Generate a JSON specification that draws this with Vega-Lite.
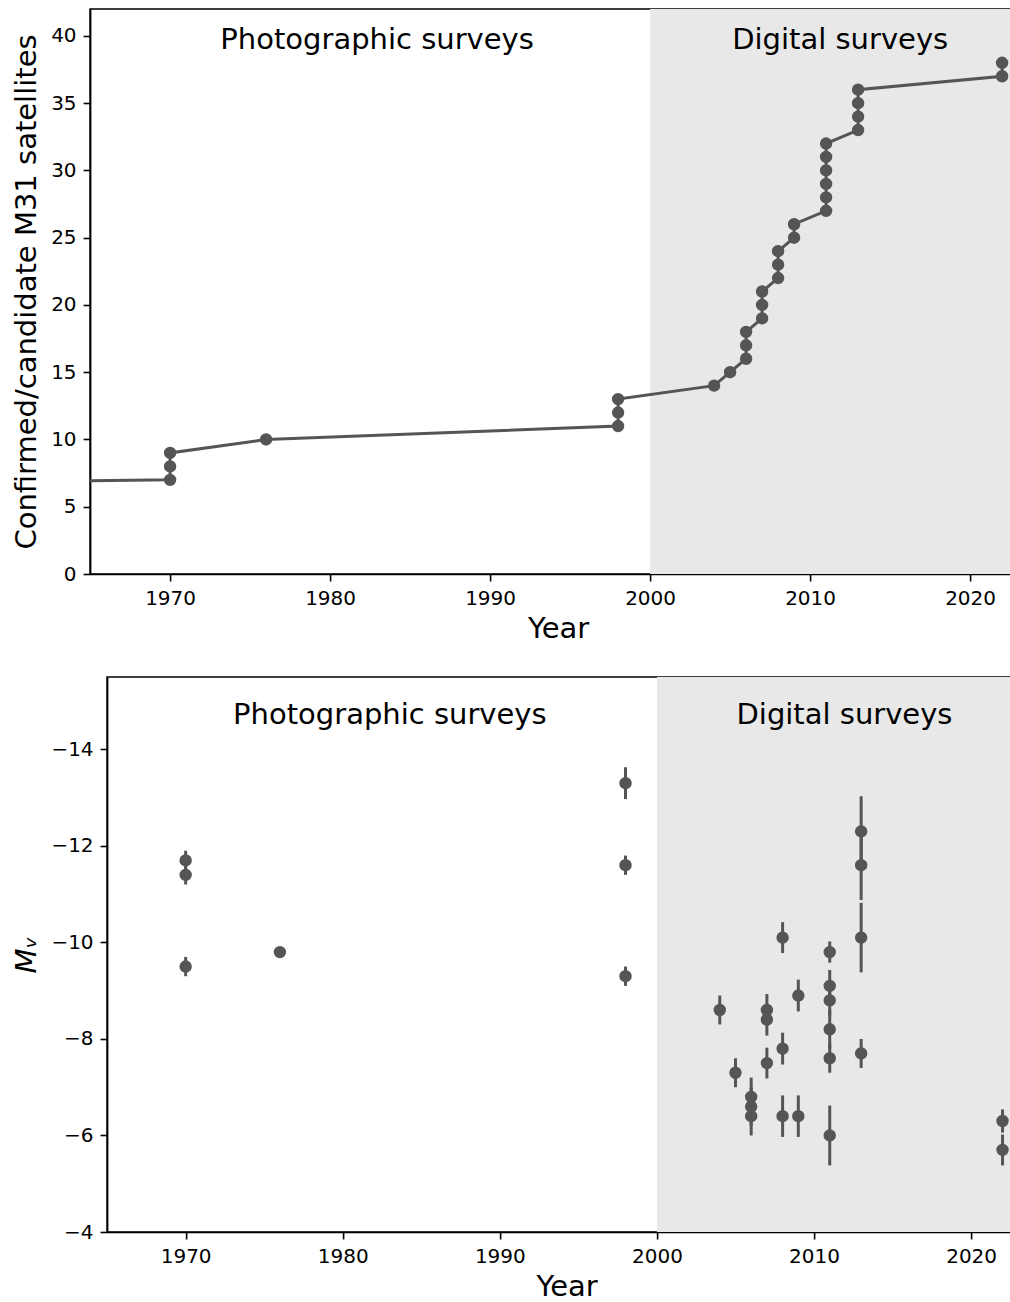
{
  "$schema": "https://vega.github.io/schema/vega-lite/v6.json",
  "padding": {"left": 11, "top": 8, "right": 0, "bottom": 0},
  "background": "white",
  "center": true,
  "spacing": 32,
  "config": {
    "view": {"stroke": "black", "strokeWidth": 1.6},
    "font": "DejaVu Sans",
    "axis": {
      "labelFont": "DejaVu Sans", "labelFontSize": 20, "labelColor": "black",
      "titleFont": "DejaVu Sans", "titleFontSize": 29, "titleFontWeight": "normal", "titleColor": "black",
      "tickColor": "black", "domainColor": "black", "tickSize": 7, "tickWidth": 1.6, "domainWidth": 1.6,
      "labelPadding": 7, "titlePadding": 6, "grid": false
    }
  },
  "datasets": {
    "counts": [
      {"year": 1654, "count": 1}, {"year": 1749, "count": 2}, {"year": 1773, "count": 3},
      {"year": 1787, "count": 4}, {"year": 1829, "count": 5}, {"year": 1887, "count": 6},
      {"year": 1970, "count": 7}, {"year": 1970, "count": 8}, {"year": 1970, "count": 9},
      {"year": 1976, "count": 10},
      {"year": 1998, "count": 11}, {"year": 1998, "count": 12}, {"year": 1998, "count": 13},
      {"year": 2004, "count": 14}, {"year": 2005, "count": 15},
      {"year": 2006, "count": 16}, {"year": 2006, "count": 17}, {"year": 2006, "count": 18},
      {"year": 2007, "count": 19}, {"year": 2007, "count": 20}, {"year": 2007, "count": 21},
      {"year": 2008, "count": 22}, {"year": 2008, "count": 23}, {"year": 2008, "count": 24},
      {"year": 2009, "count": 25}, {"year": 2009, "count": 26},
      {"year": 2011, "count": 27}, {"year": 2011, "count": 28}, {"year": 2011, "count": 29},
      {"year": 2011, "count": 30}, {"year": 2011, "count": 31}, {"year": 2011, "count": 32},
      {"year": 2013, "count": 33}, {"year": 2013, "count": 34}, {"year": 2013, "count": 35}, {"year": 2013, "count": 36},
      {"year": 2022, "count": 37}, {"year": 2022, "count": 38}
    ],
    "mags": [
      {"year": 1970, "mv": -11.7, "err": 0.2}, {"year": 1970, "mv": -11.4, "err": 0.2}, {"year": 1970, "mv": -9.5, "err": 0.2},
      {"year": 1976, "mv": -9.8, "err": 0},
      {"year": 1998, "mv": -13.3, "err": 0.33}, {"year": 1998, "mv": -11.6, "err": 0.2}, {"year": 1998, "mv": -9.3, "err": 0.2},
      {"year": 2004, "mv": -8.6, "err": 0.3},
      {"year": 2005, "mv": -7.3, "err": 0.3},
      {"year": 2006, "mv": -6.8, "err": 0.4}, {"year": 2006, "mv": -6.6, "err": 0.4}, {"year": 2006, "mv": -6.4, "err": 0.4},
      {"year": 2007, "mv": -8.6, "err": 0.33}, {"year": 2007, "mv": -8.4, "err": 0.33}, {"year": 2007, "mv": -7.5, "err": 0.32},
      {"year": 2008, "mv": -10.1, "err": 0.32}, {"year": 2008, "mv": -7.8, "err": 0.33}, {"year": 2008, "mv": -6.4, "err": 0.43},
      {"year": 2009, "mv": -8.9, "err": 0.33}, {"year": 2009, "mv": -6.4, "err": 0.43},
      {"year": 2011, "mv": -9.8, "err": 0.22}, {"year": 2011, "mv": -9.1, "err": 0.33}, {"year": 2011, "mv": -8.8, "err": 0.33},
      {"year": 2011, "mv": -8.2, "err": 0.4}, {"year": 2011, "mv": -7.6, "err": 0.3}, {"year": 2011, "mv": -6.0, "err": 0.62},
      {"year": 2013, "mv": -12.3, "err": 0.73}, {"year": 2013, "mv": -11.6, "err": 0.72}, {"year": 2013, "mv": -10.1, "err": 0.72},
      {"year": 2013, "mv": -7.7, "err": 0.3},
      {"year": 2022, "mv": -6.3, "err": 0.24}, {"year": 2022, "mv": -5.7, "err": 0.32}
    ]
  },
  "vconcat": [
    {
      "width": 953,
      "height": 565,
      "layer": [
        {
          "data": {"values": [{}]},
          "mark": {"type": "rect", "color": "#e8e8e8", "clip": true},
          "encoding": {
            "x": {"datum": 2000, "type": "quantitative", "title": "Year"},
            "x2": {"datum": 2040}
          }
        },
        {
          "data": {"name": "counts"},
          "mark": {"type": "line", "color": "#555555", "strokeWidth": 3, "clip": true},
          "encoding": {
            "x": {"field": "year", "type": "quantitative", "title": "Year",
                  "scale": {"domain": [1965, 2024.5625], "nice": false, "zero": false},
                  "axis": {"values": [1970, 1980, 1990, 2000, 2010, 2020], "format": "d", "titleX": 468}},
            "y": {"field": "count", "type": "quantitative", "title": "Confirmed/candidate M31 satellites",
                  "scale": {"domain": [0, 42], "nice": false},
                  "axis": {"values": [0, 5, 10, 15, 20, 25, 30, 35, 40], "titlePadding": 9}},
            "order": {"field": "count", "type": "quantitative"}
          }
        },
        {
          "data": {"name": "counts"},
          "mark": {"type": "circle", "color": "#555555", "opacity": 1, "size": 154, "clip": true},
          "encoding": {
            "x": {"field": "year", "type": "quantitative", "title": "Year"},
            "y": {"field": "count", "type": "quantitative", "title": "Confirmed/candidate M31 satellites"}
          }
        },
        {
          "data": {"values": [{"label": "Photographic surveys", "yr": 1982.94}, {"label": "Digital surveys", "yr": 2011.88}]},
          "mark": {"type": "text", "fontSize": 29, "font": "DejaVu Sans", "color": "black", "align": "center", "baseline": "alphabetic"},
          "encoding": {
            "x": {"field": "yr", "type": "quantitative", "title": "Year"},
            "y": {"datum": 39.03, "type": "quantitative", "title": "Confirmed/candidate M31 satellites"},
            "text": {"field": "label"}
          }
        }
      ]
    },
    {
      "width": 919,
      "height": 555,
      "layer": [
        {
          "data": {"values": [{}]},
          "mark": {"type": "rect", "color": "#e8e8e8", "clip": true},
          "encoding": {
            "x": {"datum": 2000, "type": "quantitative", "title": "Year"},
            "x2": {"datum": 2040}
          }
        },
        {
          "data": {"name": "mags"},
          "mark": {"type": "errorbar", "thickness": 3, "color": "#555555"},
          "encoding": {
            "x": {"field": "year", "type": "quantitative", "title": "Year",
                  "scale": {"domain": [1965, 2023.5], "nice": false, "zero": false},
                  "axis": {"values": [1970, 1980, 1990, 2000, 2010, 2020], "format": "d"}},
            "y": {"field": "mv", "type": "quantitative", "title": "Mᵥ",
                  "scale": {"domain": [-15.5, -4], "nice": false, "zero": false, "reverse": true},
                  "axis": {"values": [-14, -12, -10, -8, -6, -4], "format": "d", "titleFontStyle": "italic", "titlePadding": 9}},
            "yError": {"field": "err"}
          }
        },
        {
          "data": {"name": "mags"},
          "mark": {"type": "circle", "color": "#555555", "opacity": 1, "size": 154, "clip": true},
          "encoding": {
            "x": {"field": "year", "type": "quantitative", "title": "Year"},
            "y": {"field": "mv", "type": "quantitative", "title": "Mᵥ"}
          }
        },
        {
          "data": {"values": [{"label": "Photographic surveys", "yr": 1983.0}, {"label": "Digital surveys", "yr": 2011.94}]},
          "mark": {"type": "text", "fontSize": 29, "font": "DejaVu Sans", "color": "black", "align": "center", "baseline": "alphabetic"},
          "encoding": {
            "x": {"field": "yr", "type": "quantitative", "title": "Year"},
            "y": {"datum": -14.53, "type": "quantitative", "title": "Mᵥ"},
            "text": {"field": "label"}
          }
        }
      ]
    }
  ]
}
